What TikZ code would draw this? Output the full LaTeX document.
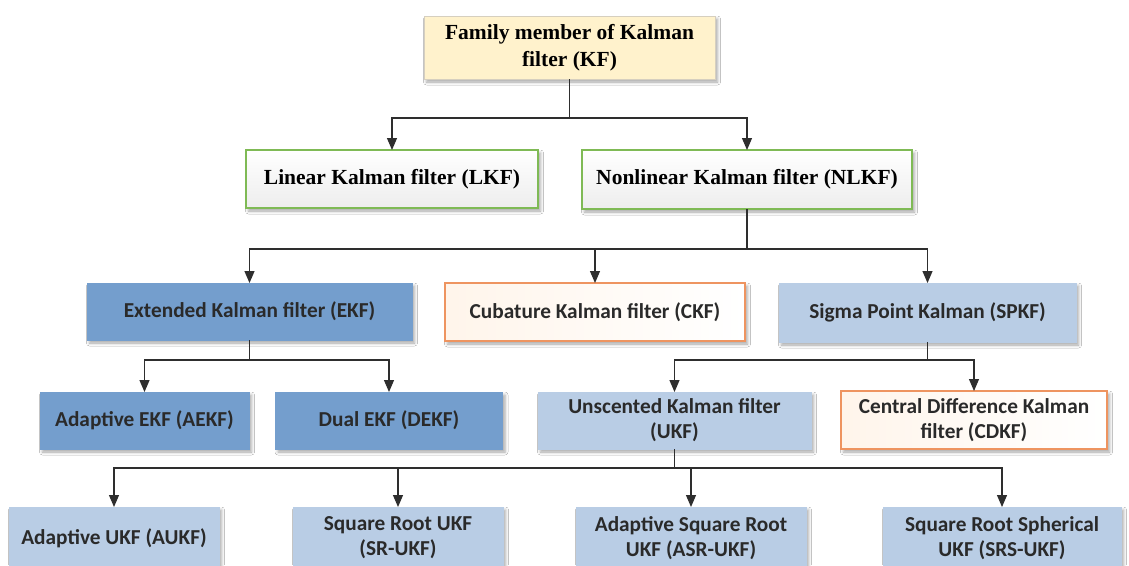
\documentclass[tikz,border=0pt]{standalone}
\usepackage{fontspec}
\setmainfont{Liberation Serif}
\newfontfamily\calfont{Carlito}
\usetikzlibrary{arrows.meta,shadows.blur}

\definecolor{kffill}{HTML}{FFF2CC}
\definecolor{kfline}{HTML}{D6CFBF}
\definecolor{greenline}{HTML}{7FBA55}
\definecolor{orangeline}{HTML}{EE9460}
\definecolor{midblue}{HTML}{749ECD}
\definecolor{paleblue}{HTML}{B9CDE5}
\definecolor{inkdark}{HTML}{2A2A2A}
\definecolor{linkgray}{HTML}{2E2E2E}

\begin{document}
\begin{tikzpicture}[x=1pt,y=-1pt,
  box/.style={inner sep=0pt, outer sep=0pt, align=center, line width=1pt,
    blur shadow={shadow xshift=2.5pt, shadow yshift=-3pt,
                 shadow blur radius=3pt, shadow opacity=35}},
  serifbox/.style={box, font=\fontsize{21.5}{27}\selectfont\bfseries, text=black},
  sansbox/.style={box, font=\calfont\bfseries\fontsize{21.3}{25}\selectfont, text=inkdark},
  rootbox/.style={serifbox, draw=kfline, fill=kffill},
  greenbox/.style={serifbox, draw=greenline, line width=1.6pt, top color=white, bottom color=black!7},
  darkbox/.style={sansbox, draw=midblue, fill=midblue},
  orangebox/.style={sansbox, draw=orangeline, line width=1.6pt, left color=orange!8, right color=white},
  lightbox/.style={sansbox, draw=paleblue, fill=paleblue},
  link/.style={draw=linkgray, line width=1.2pt},
  arr/.style={link, -{Triangle[width=10pt,length=12pt]}}
]
\clip (0,0) rectangle (1129,565);
\fill[white] (0,0) rectangle (1129,565);

% root
\node[rootbox, minimum width=291pt, minimum height=63pt] (kf) at (569.5,47.5)
  {Family member of Kalman\\filter (KF)};

% linear / nonlinear
\node[greenbox, minimum width=292pt, minimum height=58pt] (lkf) at (392,179)
  {Linear Kalman filter (LKF)};
\node[greenbox, minimum width=330pt, minimum height=59pt] (nlkf) at (747,179.5)
  {Nonlinear Kalman filter (NLKF)};

% nonlinear families
\node[darkbox, minimum width=325pt, minimum height=57pt] (ekf) at (249.5,311.5)
  {Extended Kalman filter (EKF)};
\node[orangebox, minimum width=300pt, minimum height=58pt] (ckf) at (595,312)
  {Cubature Kalman filter (CKF)};
\node[lightbox, minimum width=297pt, minimum height=59pt] (spkf) at (927.5,312.5)
  {Sigma Point Kalman (SPKF)};

% EKF variants
\node[darkbox, minimum width=209pt, minimum height=57pt] (aekf) at (144.5,420.5)
  {Adaptive EKF (AEKF)};
\node[darkbox, minimum width=227pt, minimum height=57pt] (dekf) at (389,420.5)
  {Dual EKF (DEKF)};

% sigma point variants
\node[lightbox, minimum width=273pt, minimum height=57pt] (ukf) at (674.5,420.5)
  {Unscented Kalman filter\\(UKF)};
\node[orangebox, minimum width=266pt, minimum height=58pt] (cdkf) at (974,420)
  {Central Difference Kalman\\filter (CDKF)};

% UKF variants
\node[lightbox, minimum width=210pt, minimum height=62pt] (aukf) at (114,538)
  {Adaptive UKF (AUKF)};
\node[lightbox, minimum width=210pt, minimum height=62pt] (srukf) at (398,538)
  {Square Root UKF\\(SR-UKF)};
\node[lightbox, minimum width=230pt, minimum height=62pt] (asrukf) at (691,538)
  {Adaptive Square Root\\UKF (ASR-UKF)};
\node[lightbox, minimum width=238pt, minimum height=62pt] (srsukf) at (1002,538)
  {Square Root Spherical\\UKF (SRS-UKF)};

% connectors
\path (kf.south) ++(0,39) coordinate (b1);
\draw[link] (kf.south) -- (b1);
\draw[arr] (b1) -| (lkf.north);
\draw[arr] (b1) -| (nlkf.north);

\path (nlkf.south) ++(0,40) coordinate (b2);
\draw[link] (nlkf.south) -- (b2);
\draw[arr] (b2) -| (ekf.north);
\draw[arr] (b2) -| (ckf.north);
\draw[arr] (b2) -| (spkf.north);

\path (ekf.south) ++(0,20) coordinate (b3);
\draw[link] (ekf.south) -- (b3);
\draw[arr] (b3) -| (aekf.north);
\draw[arr] (b3) -| (dekf.north);

\path (spkf.south) ++(0,18) coordinate (b4);
\draw[link] (spkf.south) -- (b4);
\draw[arr] (b4) -| (ukf.north);
\draw[arr] (b4) -| (cdkf.north);

\path (ukf.south) ++(0,19) coordinate (b5);
\draw[link] (ukf.south) -- (b5);
\draw[arr] (b5) -| (aukf.north);
\draw[arr] (b5) -| (srukf.north);
\draw[arr] (b5) -| (asrukf.north);
\draw[arr] (b5) -| (srsukf.north);
\end{tikzpicture}
\end{document}
